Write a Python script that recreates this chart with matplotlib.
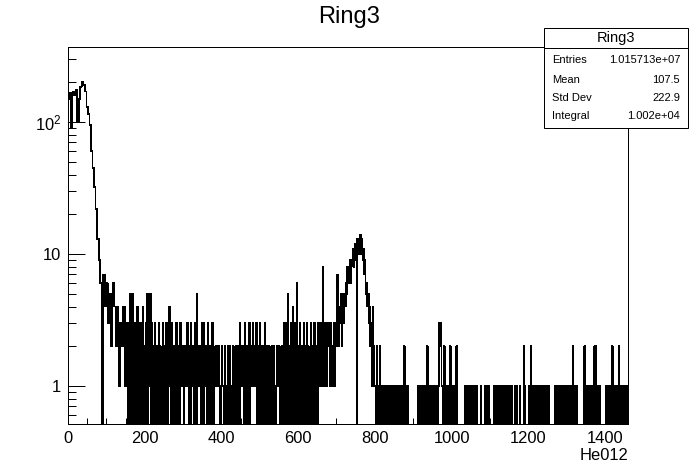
import numpy as np
import matplotlib
matplotlib.use("Agg")
import matplotlib.pyplot as plt
from matplotlib.patches import Rectangle
from matplotlib.lines import Line2D
from matplotlib.ticker import FixedLocator, MultipleLocator, LogLocator, FuncFormatter, NullFormatter

plt.rcParams['font.family'] = ['Liberation Sans', 'DejaVu Sans']
plt.rcParams['mathtext.fontset'] = 'custom'
plt.rcParams['mathtext.rm'] = 'Liberation Sans'

# counts
# 0..160 in bins of 4
low_counts = [150, 165, 90, 170, 160, 175, 100, 150, 185, 200,
              190, 170, 130, 115, 95, 60, 45, 32, 22, 13,
              9, 6, 0, 7, 4, 6, 3, 5, 2, 6,
              4, 2, 4, 1, 3, 2, 4, 1, 3, 0]
# 160..680 in bins of 2
mid_counts = [3, 5, 0, 2, 5, 1, 0, 3, 2, 0, 4, 1, 0, 2, 3, 0, 1, 4, 0, 2,
              1, 0, 3, 5, 0, 2, 1, 5, 0, 3, 2, 0, 1, 3, 0, 2, 1, 0, 3, 0,
              2, 0, 1, 3, 0, 2, 1, 0, 3, 1, 0, 2, 4, 1, 0, 3, 2, 0, 1, 2,
              0, 3, 1, 0, 2, 0, 3, 2, 1, 2, 1, 0, 2, 1, 2, 3, 1, 0, 2, 0,
              3, 1, 2, 1, 0, 2, 3, 0, 5, 1, 2, 2, 1, 0, 3, 2, 0, 3, 1, 2,
              2, 0, 3, 1, 0, 2, 1, 0, 3, 2, 0, 1, 2, 1, 1, 2, 2, 1, 0, 1,
              2, 1, 1, 0, 2, 1, 0, 1, 2, 0, 1, 2, 0, 1, 0, 2, 1, 0, 2, 1,
              0, 2, 1, 0, 3, 2, 1, 1, 2, 0, 3, 1, 0, 2, 1, 0, 3, 0, 2, 1,
              1, 3, 2, 2, 1, 3, 0, 2, 1, 0, 3, 2, 0, 1, 2, 0, 3, 1, 0, 2,
              1, 0, 2, 1, 0, 1, 2, 0, 2, 1, 0, 1, 2, 1, 1, 2, 0, 1, 0, 2,
              1, 0, 3, 2, 0, 3, 5, 0, 2, 1, 3, 0, 2, 4, 0, 1, 3, 0, 6, 1,
              0, 2, 3, 0, 1, 2, 0, 3, 2, 0, 1, 3, 0, 2, 1, 0, 3, 2, 0, 1,
              2, 3, 0, 1, 2, 0, 3, 1, 2, 3, 1, 2, 8, 2, 1, 3, 2, 1, 2, 3]
# 680..800 in bins of 2
peak_counts = [2, 1, 3, 2, 1, 2, 3, 1, 2, 3, 2, 7, 3, 2, 4, 3, 5, 2, 4, 3,
               5, 4, 6, 5, 8, 6, 7, 9, 6, 8, 9, 11, 8, 10, 12, 9, 0, 13, 11, 10,
               12, 14, 10, 13, 9, 11, 7, 9, 5, 6, 4, 5, 3, 4, 2, 3, 1, 4, 2, 1]
# 800..1460 in bins of 2
tail_counts = [1, 0, 2, 1, 0, 1, 2, 1, 0, 1, 0, 1, 0, 1, 1, 0, 1, 0, 1, 0,
               1, 0, 1, 0, 1, 1, 0, 1, 0, 1, 0, 1, 0, 0, 1, 0, 1, 0, 2, 1,
               0, 1, 0, 1, 0, 0, 0, 0, 0, 0, 0, 0, 0, 0, 0, 0, 1, 0, 1, 0,
               1, 0, 1, 1, 0, 1, 0, 1, 2, 0, 1, 0, 1, 0, 1, 1, 0, 1, 0, 1,
               0, 1, 0, 1, 3, 2, 3, 1, 0, 1, 2, 0, 1, 0, 1, 0, 1, 0, 2, 1,
               0, 1, 0, 1, 0, 1, 2, 0, 0, 0, 0, 0, 0, 0, 0, 0, 0, 1, 0, 1,
               0, 1, 0, 1, 1, 0, 1, 0, 1, 0, 1, 1, 0, 1, 0, 0, 0, 0, 1, 0,
               0, 0, 0, 1, 0, 0, 1, 0, 1, 0, 0, 0, 0, 0, 0, 1, 0, 0, 1, 0,
               1, 0, 1, 0, 0, 1, 0, 1, 0, 0, 1, 0, 0, 1, 0, 1, 0, 0, 1, 0,
               0, 0, 1, 0, 0, 1, 0, 0, 0, 1, 0, 0, 0, 0, 2, 1, 0, 0, 0, 0,
               0, 1, 0, 2, 1, 0, 1, 0, 1, 0, 1, 1, 0, 1, 0, 1, 0, 1, 0, 1,
               0, 1, 0, 1, 1, 0, 1, 0, 0, 0, 0, 0, 0, 0, 1, 0, 1, 0, 1, 0,
               0, 1, 0, 1, 0, 1, 1, 0, 1, 0, 1, 0, 1, 0, 1, 0, 0, 1, 2, 1,
               0, 1, 0, 1, 0, 0, 0, 0, 0, 0, 0, 0, 0, 2, 0, 1, 0, 1, 0, 1,
               0, 1, 0, 1, 0, 1, 2, 0, 2, 1, 0, 1, 0, 1, 0, 0, 0, 0, 0, 0,
               0, 1, 0, 1, 0, 1, 0, 1, 0, 2, 0, 0, 0, 1, 0, 1, 0, 1, 2, 0,
               1, 0, 1, 0, 1, 1, 0, 1, 0, 1]

stat_names = ["Entries", "Mean", "Std Dev", "Integral"]
stat_values = ["1.015713e+07", "107.5", "222.9", "1.002e+04"]

counts = np.array(low_counts + mid_counts + peak_counts + tail_counts, dtype=float)
edges = np.concatenate([np.arange(0, 160, 4), np.arange(160, 160 + 2 * (len(counts) - len(low_counts)) + 1, 2)])
# empty bins drop below the axis like ROOT does on a log scale
shown = np.where(counts > 0, counts, 1e-3)

W, H = 698, 473
fig = plt.figure(figsize=(W / 100, H / 100), dpi=100)
ax = fig.add_axes([68 / W, 1 - 424 / H, 560 / W, 377 / H])
ax.stairs(shown, edges, color='black', lw=0.5, baseline=None, antialiased=False)
ax.set_yscale('log')
ax.set_xlim(0, 1460)
ax.set_ylim(0.515, 370)

ax.yaxis.set_major_locator(FixedLocator([1, 10, 100]))
ax.yaxis.set_minor_locator(LogLocator(base=10, subs=np.arange(2, 10)))
ax.yaxis.set_minor_formatter(NullFormatter())
ylabels = {1: "1", 10: "10", 100: r"$\mathregular{10^{2}}$"}
ax.yaxis.set_major_formatter(FuncFormatter(lambda v, p: ylabels.get(int(round(v)), "")))
ax.xaxis.set_major_locator(MultipleLocator(200))
ax.xaxis.set_minor_locator(MultipleLocator(50))

ax.tick_params(which='both', direction='in', width=0.72, top=False, right=False,
               labelsize=11.9, colors='black')
ax.tick_params(axis='y', which='major', length=12, pad=5)
ax.tick_params(axis='y', which='minor', length=6)
ax.tick_params(axis='x', which='major', length=8, pad=5)
ax.tick_params(axis='x', which='minor', length=4)
for s in ax.spines.values():
    s.set_linewidth(0.72)

fig.text(0.5, 1 - 17 / H, "Ring3", ha='center', va='center', fontsize=17)
fig.text(628 / W, 1 - 455 / H, "He012", ha='right', va='center', fontsize=11.9)

# stats box
bx0, bx1, by0, by1, bsep = 544, 688, 28, 128, 48
fig.patches.append(Rectangle((bx0 / W, 1 - by1 / H), (bx1 - bx0) / W, (by1 - by0) / H,
                             transform=fig.transFigure, facecolor='white',
                             edgecolor='black', lw=0.72, zorder=10))
fig.lines.append(Line2D([bx0 / W, bx1 / W], [1 - bsep / H, 1 - bsep / H],
                        transform=fig.transFigure, color='black', lw=0.72, zorder=11))
fig.text((bx0 + bx1) / 2 / W, 1 - 38 / H, "Ring3", ha='center', va='center',
         fontsize=10.5, zorder=12)
row_y = [60, 80, 98, 116]
for name, val, y in zip(stat_names, stat_values, row_y):
    fig.text(552 / W, 1 - y / H, name, ha='left', va='center', fontsize=8, zorder=12)
    fig.text(680 / W, 1 - y / H, val, ha='right', va='center', fontsize=8, zorder=12)

fig.savefig("out.png", dpi=100)
